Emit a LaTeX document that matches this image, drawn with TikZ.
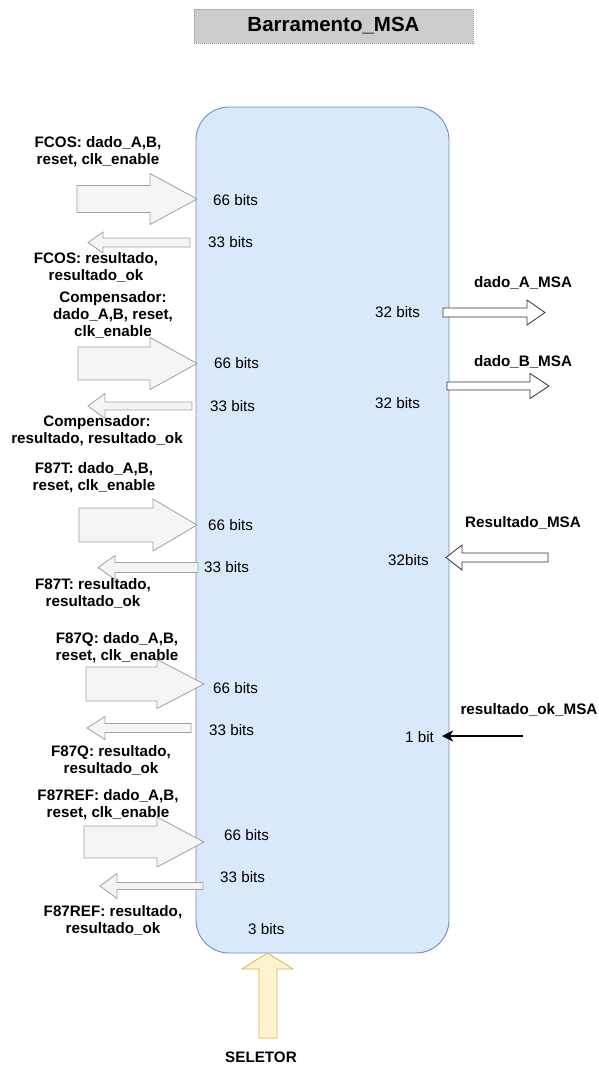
\documentclass[tikz,border=0pt]{standalone}
\usepackage{fontspec}
\setmainfont{Liberation Sans}
\usetikzlibrary{arrows.meta}

\definecolor{busfill}{HTML}{DAE8FC}
\definecolor{busline}{HTML}{6C8EBF}
\definecolor{grayfill}{HTML}{F5F5F5}
\definecolor{grayline}{HTML}{A0A0A0}
\definecolor{selfill}{HTML}{FFF2CC}
\definecolor{selline}{HTML}{D6B656}
\definecolor{titlefill}{HTML}{CCCCCC}
\definecolor{titleline}{HTML}{A08AB0}

% block arrow: style, tail x, head base x, tip x, axis y, body half height, head half height
\newcommand{\blockarrow}[7]{%
  \draw[#1] ({#2},{#5-#6}) -- ({#3},{#5-#6}) -- ({#3},{#5-#7}) -- ({#4},{#5})
    -- ({#3},{#5+#7}) -- ({#3},{#5+#6}) -- ({#2},{#5+#6}) -- cycle;}

\tikzset{
  lbl/.style={font=\fontsize{15.2}{17}\selectfont\bfseries, align=center, inner sep=0pt},
  bits/.style={font=\fontsize{15.2}{17}\selectfont, anchor=west, inner sep=0pt},
  gin/.style={fill=grayfill, draw=grayline, line width=0.8pt},
  wout/.style={fill=white, draw=black!80, line width=0.8pt},
  sel/.style={fill=selfill, draw=selline, line width=0.8pt},
  busbox/.style={fill=busfill, draw=busline, line width=0.9pt, rounded corners=33pt,
    minimum width=253pt, minimum height=846pt, inner sep=0pt},
  titlebox/.style={fill=titlefill, draw=titleline, dash pattern=on 1pt off 1pt,
    line width=0.8pt, minimum width=279pt, minimum height=34pt, inner sep=0pt,
    font=\fontsize{20.5}{24}\selectfont\bfseries}
}

\begin{document}
\begin{tikzpicture}[x=1pt,y=-1pt]
\useasboundingbox (0,0) rectangle (598,1066);

% title and bus block
\node[titlebox] (title) at (333.5,26) {Barramento\_MSA};
\node[busbox] (bus) at (322.5,530) {};

% FCOS
\blockarrow{gin}{77}{150}{197}{199}{13.5}{25.5}
\blockarrow{gin}{190}{103}{88}{242.5}{4.5}{10.5}
\node[lbl] (fcosin) at (98,152) {FCOS: dado\_A,B,\\reset, clk\_enable};
\node[lbl] (fcosout) at (96,267) {FCOS: resultado,\\resultado\_ok};
\node[bits] (fcos66) at (213,200) {66 bits};
\node[bits] (fcos33) at (208,242) {33 bits};

% Compensador
\blockarrow{gin}{78}{150}{197}{363.5}{16.5}{26}
\blockarrow{gin}{192}{105}{88}{406}{4}{12.5}
\node[lbl] (compin) at (113,314.5) {Compensador:\\dado\_A,B, reset,\\clk\_enable};
\node[lbl] (compout) at (97,431) {Compensador:\\resultado, resultado\_ok};
\node[bits] (comp66) at (214,363) {66 bits};
\node[bits] (comp33) at (210,406) {33 bits};

% F87T
\blockarrow{gin}{79}{153}{197}{525}{17}{26}
\blockarrow{gin}{198}{115}{98}{567.5}{5}{12}
\node[lbl] (ftin) at (94,478) {F87T: dado\_A,B,\\reset, clk\_enable};
\node[lbl] (ftout) at (93,593) {F87T: resultado,\\resultado\_ok};
\node[bits] (ft66) at (208,525) {66 bits};
\node[bits] (ft33) at (204,567) {33 bits};

% F87Q
\blockarrow{gin}{86}{157}{204}{684}{17}{24.5}
\blockarrow{gin}{191}{105}{87}{728}{4.5}{11.5}
\node[lbl] (fqin) at (117,648) {F87Q: dado\_A,B,\\reset, clk\_enable};
\node[lbl] (fqout) at (111,760) {F87Q: resultado,\\resultado\_ok};
\node[bits] (fq66) at (213,688) {66 bits};
\node[bits] (fq33) at (209,730) {33 bits};

% F87REF
\blockarrow{gin}{84}{157}{204}{842}{16}{25}
\blockarrow{gin}{203}{117}{100}{886}{3.5}{12.5}
\node[lbl] (frin) at (108,805) {F87REF: dado\_A,B,\\reset, clk\_enable};
\node[lbl] (frout) at (113,920) {F87REF: resultado,\\resultado\_ok};
\node[bits] (fr66) at (224,835) {66 bits};
\node[bits] (fr33) at (220,877) {33 bits};

% outputs and inputs on the right
\blockarrow{wout}{443}{527}{545}{312.5}{4.5}{12.5}
\blockarrow{wout}{447}{530}{549}{386}{4}{12.5}
\blockarrow{wout}{548}{462}{446}{557.5}{4.5}{12.5}
\node[lbl] (dadoa) at (523,283) {dado\_A\_MSA};
\node[lbl] (dadob) at (523,362) {dado\_B\_MSA};
\node[lbl] (resmsa) at (523,523) {Resultado\_MSA};
\node[lbl] (okmsa) at (529,710) {resultado\_ok\_MSA};
\node[bits] (a32) at (375,312) {32 bits};
\node[bits] (b32) at (375,403) {32 bits};
\node[bits] (r32) at (388,560) {32bits};
\node[bits] (ok1) at (405,737) {1 bit};

\coordinate (okfrom) at (523,736);
\coordinate (okto) at (442,736);
\draw[line width=2pt, -{Stealth[length=11pt,width=11pt,inset=3pt]}] (okfrom) -- (okto);

% selector input
\draw[sel] (259,1038) -- (259,969) -- (242,969) -- (267.5,953) -- (293,969)
  -- (277,969) -- (277,1038) -- cycle;
\node[bits] (sel3) at (248,929) {3 bits};
\node[lbl] (seletor) at (261,1057) {SELETOR};
\end{tikzpicture}
\end{document}
